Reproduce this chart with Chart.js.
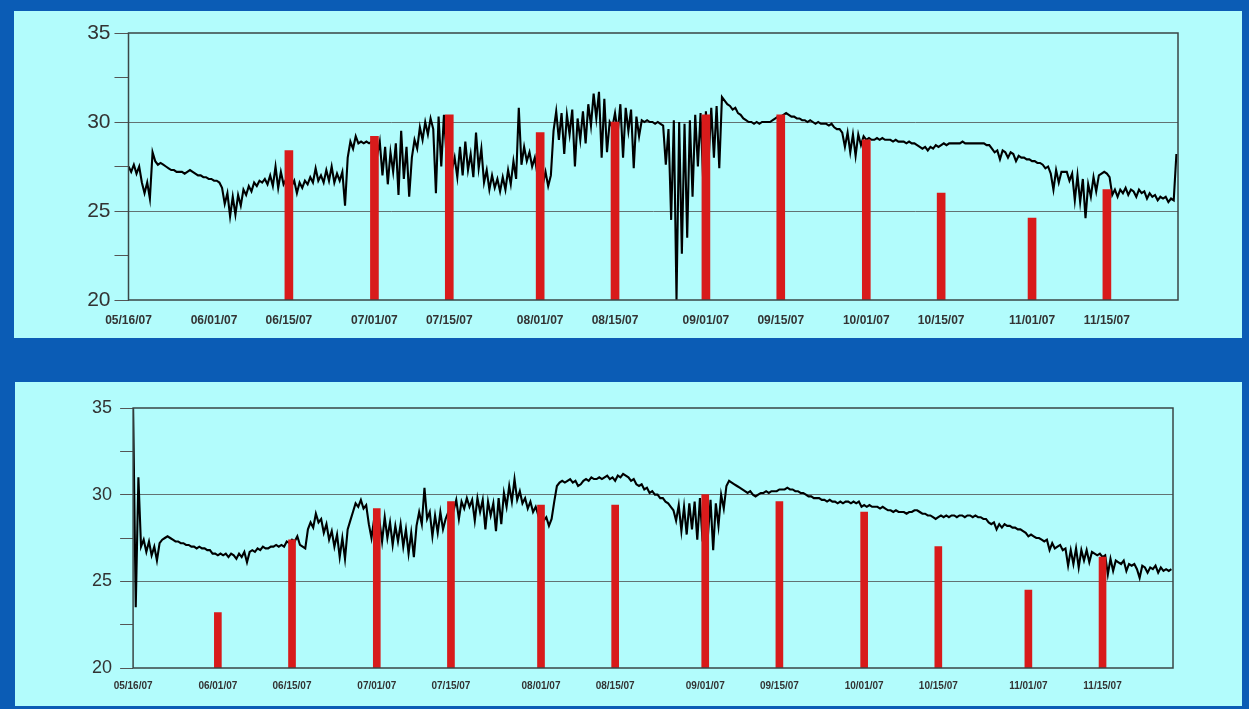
<!DOCTYPE html>
<html>
<head>
<meta charset="utf-8">
<script src="https://cdn.jsdelivr.net/npm/chart.js@4.4.0/dist/chart.umd.min.js"></script>
<style>
  html, body { margin: 0; padding: 0; }
  body { width: 1249px; height: 709px; background: #0b5cb5; position: relative; overflow: hidden; }
  canvas { position: absolute; background: #b2fcfc; }
  #top { left: 14px; top: 11px; }
  #bottom { left: 15px; top: 382px; }
</style>
</head>
<body>
<canvas id="top" width="1228" height="327"></canvas>
<canvas id="bottom" width="1227" height="324"></canvas>
<script>
// readings every 12 hours, x = days since 05/16/07
const STEP = 0.5

const tickDays = [0, 16, 30, 46, 60, 77, 91, 108, 122, 138, 152, 169, 183]
const tickLabels = ['05/16/07', '06/01/07', '06/15/07', '07/01/07', '07/15/07', '08/01/07', '08/15/07',
    '09/01/07', '09/15/07', '10/01/07', '10/15/07', '11/01/07', '11/15/07']

// red bars, one per half month
const barDays = [16, 30, 46, 60, 77, 91, 108, 122, 138, 152, 169, 183]
const topBars = [null, 28.4, 29.2, 30.4, 29.4, 30.0, 30.4, 30.4, 29.0, 26.0, 24.6, 26.2]
const bottomBars = [23.2, 27.4, 29.2, 29.6, 29.4, 29.4, 30.0, 29.6, 29.0, 27.0, 24.5, 26.4]

const topTemps = [
    27.5, 27.2, 27.6, 27.1, 27.5, 26.6, 26.0, 26.6, 25.7, 28.3, 27.8, 27.6, 27.7, 27.6, 27.5, 27.4, 27.3, 27.3, 27.2, 27.2,
    27.2, 27.1, 27.2, 27.3, 27.2, 27.1, 27.0, 27.0, 26.9, 26.9, 26.8, 26.8, 26.7, 26.7, 26.6, 26.3, 25.4, 26.0, 24.7, 25.8,
    24.8, 25.9, 25.3, 26.2, 25.9, 26.4, 26.1, 26.6, 26.4, 26.7, 26.6, 26.8, 26.5, 27.0, 26.4, 27.5, 26.3, 27.2, 26.5, 26.8,
    26.9, 26.4, 26.7, 26.0, 26.6, 26.3, 26.7, 26.5, 26.9, 26.6, 27.4, 26.7, 27.0, 26.6, 27.3, 26.7, 27.5, 26.6, 27.1, 26.7,
    27.2, 25.3, 28.0, 28.9, 28.5, 29.2, 28.8, 28.9, 28.8, 28.9, 28.8, 28.9, 29.0, 28.1, 28.9, 27.0, 28.6, 26.5, 28.3, 27.2,
    28.8, 25.9, 29.5, 26.8, 28.6, 25.8, 28.0, 29.0, 28.5, 29.7, 29.0, 30.0, 29.3, 30.2, 29.6, 26.0, 30.3, 27.5, 30.4, 28.0,
    30.3, 27.3, 28.0, 26.9, 28.6, 27.0, 28.9, 27.3, 28.2, 26.9, 29.4, 27.4, 28.5, 26.6, 27.3, 26.2, 27.0, 26.3, 26.8, 26.1,
    26.9, 26.2, 27.3, 26.5, 27.8, 26.8, 30.8, 27.6, 28.6, 27.8, 28.3, 27.5, 28.0, 27.0, 27.3, 26.5, 27.2, 26.4, 27.0, 29.5,
    30.6, 29.0, 30.5, 28.2, 30.4, 29.3, 30.7, 27.5, 30.2, 29.0, 30.6, 28.8, 31.0, 29.8, 31.6, 30.2, 31.7, 28.0, 31.3, 28.3,
    30.0, 29.7, 30.5, 29.4, 31.0, 28.0, 30.8, 29.5, 30.7, 27.4, 30.3, 29.2, 30.1, 30.0, 30.1, 30.0, 30.0, 29.9, 30.0, 29.9,
    29.8, 27.6, 29.6, 24.5, 30.1, 20.0, 30.0, 22.6, 29.9, 23.5, 30.1, 25.8, 30.4, 27.5, 30.5, 26.6, 30.6, 27.8, 30.8, 28.0,
    30.9, 27.4, 31.4, 31.2, 31.0, 30.9, 30.7, 30.8, 30.5, 30.4, 30.2, 30.1, 30.0, 30.0, 29.9, 30.0, 29.9, 30.0, 30.0, 30.0,
    30.0, 30.1, 30.2, 30.3, 30.3, 30.4, 30.5, 30.4, 30.3, 30.3, 30.2, 30.2, 30.1, 30.1, 30.0, 30.1, 30.0, 29.9, 30.0, 29.9,
    29.9, 29.9, 29.8, 29.9, 29.7, 29.6, 29.6, 29.4, 28.6, 29.4, 28.3, 29.3, 28.1, 29.3, 28.7, 29.2, 29.0, 29.1, 29.0, 29.0,
    29.1, 29.0, 29.1, 29.0, 29.0, 29.0, 28.9, 29.0, 28.9, 28.9, 28.9, 28.8, 28.9, 28.8, 28.8, 28.7, 28.6, 28.5, 28.6, 28.4,
    28.6, 28.5, 28.7, 28.6, 28.7, 28.8, 28.7, 28.8, 28.8, 28.8, 28.8, 28.8, 28.9, 28.8, 28.8, 28.8, 28.8, 28.8, 28.8, 28.8,
    28.8, 28.7, 28.7, 28.5, 28.3, 28.4, 27.9, 28.4, 28.3, 28.0, 28.3, 28.2, 27.8, 28.1, 28.0, 28.0, 27.9, 27.9, 27.8, 27.8,
    27.7, 27.7, 27.6, 27.4, 27.5, 27.1, 26.2, 27.3, 26.6, 27.2, 27.2, 27.2, 26.7, 27.1, 25.6, 27.0, 25.5, 26.8, 24.6, 26.5,
    25.8, 26.9, 26.1, 27.0, 27.1, 27.2, 27.1, 26.9, 25.9, 26.2, 25.8, 26.2, 26.0, 26.3, 25.9, 26.2, 26.1, 25.8, 26.2, 26.0,
    26.1, 25.7, 26.0, 25.8, 25.9, 25.6, 25.8, 25.7, 25.8, 25.5, 25.7, 25.6, 28.2
]

const bottomTemps = [
    35.0, 23.5, 31.0, 27.0, 27.4, 26.7, 27.3, 26.5, 27.0, 26.2, 27.2, 27.4, 27.5, 27.6, 27.5, 27.4, 27.3, 27.3, 27.2, 27.2,
    27.1, 27.1, 27.0, 27.0, 26.9, 27.0, 26.9, 26.9, 26.8, 26.8, 26.6, 26.6, 26.5, 26.6, 26.5, 26.6, 26.4, 26.6, 26.5, 26.3,
    26.6, 26.4, 26.7, 26.1, 26.7, 26.8, 26.7, 26.9, 26.8, 27.0, 26.9, 26.9, 27.0, 27.0, 27.1, 27.0, 27.1, 27.0, 27.3, 27.2,
    27.4, 27.3, 27.6, 27.1, 27.0, 26.9, 28.0, 28.4, 28.1, 28.9, 28.4, 28.6, 27.8, 28.3, 27.4, 27.9, 27.0, 27.7, 26.4, 27.5,
    26.3, 28.0, 28.5, 29.0, 29.5, 29.3, 29.7, 29.2, 29.4, 28.3, 27.5, 28.6, 27.2, 28.5, 27.3, 28.7, 27.5, 28.4, 27.1, 28.2,
    27.3, 28.3, 27.0, 28.0, 26.6, 27.8, 26.4, 28.2, 29.0, 28.3, 30.4, 28.6, 29.0, 27.6, 28.8, 27.8, 29.0, 28.0, 28.6, 29.0,
    29.4, 29.1, 29.7, 28.6, 29.6, 29.2, 29.8, 29.3, 29.7, 28.5, 29.8, 29.0, 29.7, 28.0, 29.6, 28.8, 29.5, 27.9, 29.8, 28.3,
    30.1, 29.3, 30.5, 29.6, 30.9, 29.7, 30.2, 29.5, 29.8, 29.2, 29.6, 29.0, 29.3, 28.8, 29.0, 28.5, 28.7, 28.2, 28.6, 29.6,
    30.5, 30.7, 30.8, 30.7, 30.8, 30.9, 30.7, 30.8, 30.5, 30.6, 30.8, 30.9, 30.8, 31.0, 30.9, 30.9, 31.0, 30.9, 31.0, 31.1,
    30.9, 31.0, 30.8, 31.1, 31.0, 31.2, 31.1, 31.0, 30.8, 30.9, 30.6, 30.5, 30.6, 30.3, 30.4, 30.1, 30.2, 30.0, 30.0, 29.8,
    29.8, 29.6, 29.5, 29.3, 29.1, 28.5, 29.4, 27.9, 29.3, 27.7, 29.5, 28.0, 29.6, 27.4, 29.8, 27.3, 29.9, 27.6, 29.7, 26.8,
    29.5, 28.2, 30.0, 29.2, 30.5, 30.8, 30.7, 30.6, 30.5, 30.4, 30.3, 30.2, 30.1, 30.2, 30.0, 29.9, 30.0, 30.1, 30.1, 30.2,
    30.1, 30.2, 30.2, 30.2, 30.3, 30.3, 30.3, 30.4, 30.3, 30.3, 30.2, 30.2, 30.1, 30.1, 30.0, 29.9, 29.9, 29.8, 29.8, 29.8,
    29.7, 29.7, 29.6, 29.7, 29.6, 29.6, 29.5, 29.6, 29.5, 29.6, 29.6, 29.5, 29.6, 29.5, 29.6, 29.3, 29.4, 29.3, 29.4, 29.3,
    29.3, 29.3, 29.2, 29.3, 29.2, 29.1, 29.1, 29.0, 29.1, 29.0, 29.0, 29.0, 28.9, 29.0, 29.0, 29.1, 29.1, 29.0, 28.9, 28.9,
    28.8, 28.8, 28.7, 28.6, 28.7, 28.8, 28.7, 28.8, 28.7, 28.8, 28.8, 28.7, 28.8, 28.8, 28.7, 28.8, 28.8, 28.7, 28.8, 28.7,
    28.7, 28.6, 28.6, 28.4, 28.3, 28.4, 28.0, 28.3, 28.1, 28.3, 28.2, 28.2, 28.1, 28.1, 28.0, 28.0, 27.9, 27.8, 27.6, 27.7,
    27.6, 27.5, 27.5, 27.4, 27.3, 27.4, 26.8, 27.2, 26.9, 27.0, 27.1, 26.8, 26.9, 25.9, 26.8, 26.0, 26.9, 25.8, 26.8, 26.2,
    26.8, 26.1, 26.7, 26.6, 26.5, 26.6, 26.4, 26.5, 25.4, 26.3, 25.6, 26.2, 26.1, 26.0, 26.2, 25.6, 26.0, 25.9, 26.0, 25.7,
    25.2, 25.9, 25.8, 25.5, 25.8, 25.7, 25.9, 25.5, 25.8, 25.6, 25.7, 25.6, 25.7
]

const FONT = 'Liberation Sans, Arial, sans-serif'

// box around the plot area
const frame = {
    id: 'frame',
    afterDraw(chart) {
        const { ctx, chartArea: a } = chart
        ctx.save()
        ctx.strokeStyle = '#3a4646'
        ctx.lineWidth = 1.5
        ctx.strokeRect(a.left, a.top, a.right - a.left, a.bottom - a.top)
        ctx.restore()
    }
}

const makeChart = (id, temps, bars, opt) => {
    return new Chart(document.getElementById(id), {
        type: 'line',
        data: {
            datasets: [
                {
                    type: 'bar',
                    order: 1,
                    backgroundColor: '#d81b1b',
                    barThickness: opt.barWidth,
                    data: barDays.map((d, i) => ({ x: d, y: bars[i] }))
                },
                {
                    type: 'line',
                    order: 2,
                    borderColor: '#000',
                    borderWidth: 2.1,
                    pointRadius: 0,
                    tension: 0,
                    data: temps.map((v, i) => ({ x: i * STEP, y: v }))
                }
            ]
        },
        options: {
            responsive: false,
            animation: false,
            layout: { padding: opt.padding },
            plugins: { legend: { display: false }, tooltip: { enabled: false } },
            scales: {
                x: {
                    type: 'linear',
                    min: 0,
                    max: 196.3,
                    offset: false,
                    grid: { display: false },
                    border: { display: false },
                    afterBuildTicks: s => { s.ticks = tickDays.map(v => ({ value: v })) },
                    afterFit: s => { s.height = 30 },
                    ticks: {
                        autoSkip: false,
                        maxRotation: 0,
                        padding: opt.xPad,
                        color: '#333',
                        font: { family: FONT, size: opt.xFont, weight: 'bold' },
                        callback: v => tickLabels[tickDays.indexOf(v)]
                    }
                },
                y: {
                    min: 20,
                    max: 35,
                    border: { display: false },
                    afterFit: s => { s.width = 50 },
                    grid: {
                        tickLength: opt.tickLen,
                        tickColor: '#555',
                        color: c => (c.tick.value === 25 || c.tick.value === 30) ? '#627272' : 'rgba(0,0,0,0)'
                    },
                    ticks: {
                        stepSize: 2.5,
                        padding: opt.yPad,
                        color: '#333',
                        font: { family: FONT, size: opt.yFont },
                        callback: v => (v % 5 === 0 ? String(v) : '')
                    }
                }
            }
        },
        plugins: [frame]
    })
}

makeChart('top', topTemps, topBars, {
    padding: { left: 64.5, right: 64, top: 22, bottom: 8 },
    barWidth: 8, xFont: 12, yFont: 21, xPad: 5, yPad: 4, tickLen: 14
})

makeChart('bottom', bottomTemps, bottomBars, {
    padding: { left: 68.1, right: 69, top: 26, bottom: 8 },
    barWidth: 7, xFont: 10, yFont: 18, xPad: 4, yPad: 8, tickLen: 13
})
</script>
</body>
</html>
